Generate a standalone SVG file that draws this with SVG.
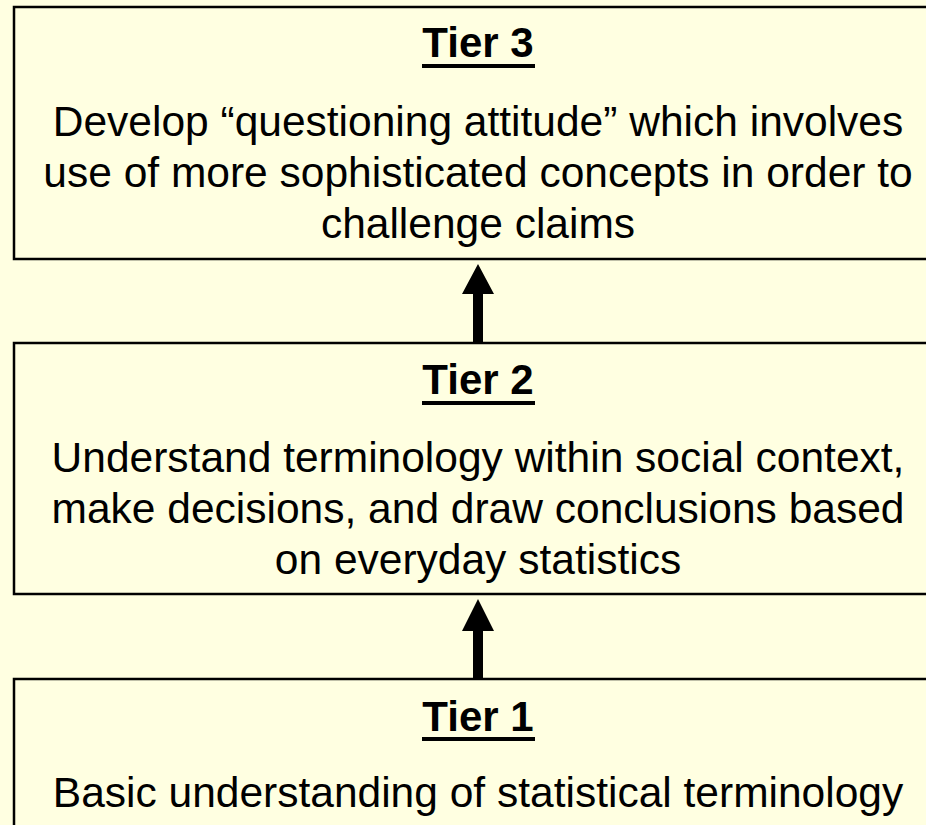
<svg xmlns="http://www.w3.org/2000/svg" width="926" height="825" viewBox="0 0 926 825">
  <style>
    .box { fill: #FFFFE1; stroke: #000000; stroke-width: 2.5; }
    .head { font-family: "Liberation Sans", Arial, sans-serif; font-weight: bold; font-size: 42px; fill: #000; text-anchor: middle; }
    .body { font-family: "Liberation Sans", Arial, sans-serif; font-size: 42.5px; fill: #000; text-anchor: middle; }
    .ul { stroke: #000; stroke-width: 4; }
    .arrow { fill: #000; }
  </style>
  <rect x="0" y="0" width="926" height="825" fill="#FFFFE1"/>
  <g id="tier3">
    <rect class="box" x="14" y="7" width="930" height="252"/>
    <text class="head" x="478" y="57">Tier 3</text>
    <line class="ul" x1="422" y1="66" x2="535" y2="66"/>
    <text class="body" x="478" y="136">Develop “questioning attitude” which involves</text>
    <text class="body" x="478" y="187">use of more sophisticated concepts in order to</text>
    <text class="body" x="478" y="238">challenge claims</text>
  </g>
  <g id="tier2">
    <rect class="box" x="14" y="343" width="930" height="251"/>
    <text class="head" x="478" y="394">Tier 2</text>
    <line class="ul" x1="422" y1="403" x2="535" y2="403"/>
    <text class="body" x="478" y="472">Understand terminology within social context,</text>
    <text class="body" x="478" y="523">make decisions, and draw conclusions based</text>
    <text class="body" x="478" y="574">on everyday statistics</text>
  </g>
  <g id="tier1">
    <rect class="box" x="14" y="679" width="930" height="160"/>
    <text class="head" x="478" y="731">Tier 1</text>
    <line class="ul" x1="422" y1="739" x2="535" y2="739"/>
    <text class="body" x="478" y="807">Basic understanding of statistical terminology</text>
  </g>
  <g id="connectors">
    <polygon class="arrow" points="478,264 494,294 483,294 483,342 473,342 473,294 462,294"/>
    <polygon class="arrow" points="478,599 494,631 483,631 483,678 473,678 473,631 462,631"/>
  </g>
</svg>
